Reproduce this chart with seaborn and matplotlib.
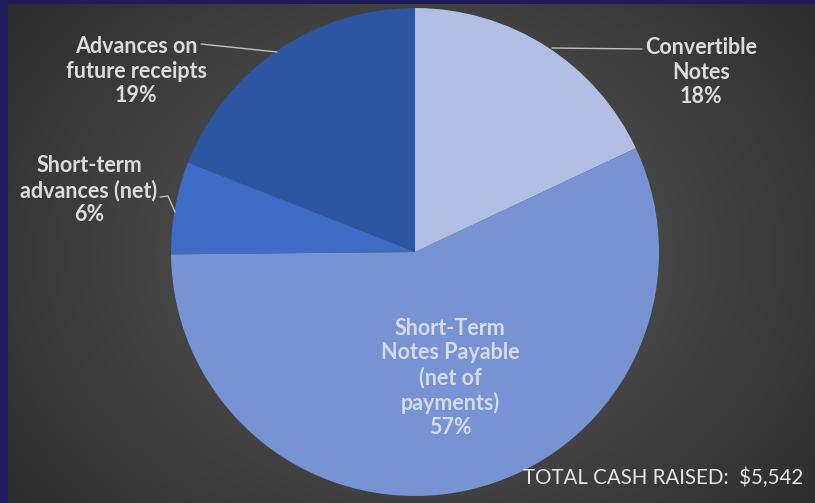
import numpy as np
import matplotlib
matplotlib.use("Agg")
import matplotlib.pyplot as plt
import seaborn as sns

# ---- data ----
categories = ["Convertible\nNotes", "Short-Term\nNotes Payable\n(net of\npayments)",
              "Short-term\nadvances (net)", "Advances on\nfuture receipts"]
amounts = [998, 3150, 340, 1054]
pct_labels = ["18%", "57%", "6%", "19%"]
total_label = "TOTAL CASH RAISED:  $5,542"
colors_hex = ["#b2bee3", "#7793d4", "#3e6cc4", "#2e55a1"]

sns.set_style("dark")
plt.rcParams['font.family'] = ['Lato', 'DejaVu Sans']
palette = sns.color_palette(colors_hex)

W, H = 815, 503
fig = plt.figure(figsize=(W / 100, H / 100), dpi=100)
fig.patch.set_facecolor("#1f1b5e")

# background with radial gradient
bg = fig.add_axes([8 / W, 0, 1 - 8 / W, 1 - 4 / H])
bg.set_axis_off()
yy, xx = np.mgrid[0:H - 4, 0:W - 8]
cx, cy = 407, 250
d = np.sqrt(((xx - cx) / 520.0) ** 2 + ((yy - cy) / 420.0) ** 2)
d = np.clip(d, 0, 1)
c0 = np.array([0x5c, 0x5c, 0x5c]) / 255
c1 = np.array([0x2c, 0x2c, 0x2c]) / 255
img = c0[None, None, :] * (1 - d[..., None]) + c1[None, None, :] * d[..., None]
bg.imshow(img, aspect="auto", extent=[0, 1, 0, 1], interpolation="bilinear")

# pie axes in pixel coordinates (y up)
ax = fig.add_axes([0, 0, 1, 1])
ax.set_axis_off()
ax.patch.set_alpha(0)
ax.pie(amounts, colors=palette, startangle=90, counterclock=False,
       center=(415, H - 252), radius=244,
       wedgeprops=dict(linewidth=0))
ax.set_xlim(0, W)
ax.set_ylim(0, H)
ax.set_aspect("equal")

tc = "#dcdcdc"
fs = 15.5

def label(x, y, s, color=tc):
    ax.text(x, H - y, s, ha="center", va="center", fontsize=fs, fontweight="bold",
            color=color, linespacing=1.2)

label(136, 71, categories[3] + "\n" + pct_labels[3])
label(89, 190, categories[2] + "\n" + pct_labels[2])
label(701, 72, categories[0] + "\n" + pct_labels[0])
label(450, 378, categories[1] + "\n" + pct_labels[1], color="#d4dae8")

lc = "#bfbfbf"
ax.plot([201, 277], [H - 44, H - 52], color=lc, lw=1)
ax.plot([160, 168, 175], [H - 197, H - 196, H - 212], color=lc, lw=1)
ax.plot([552, 642], [H - 48, H - 49], color=lc, lw=1)

ax.text(803, H - 478, total_label, ha="right", va="center", fontsize=14.8,
        color="#e6e6e6")

fig.savefig("out.png", dpi=100, facecolor=fig.get_facecolor())
